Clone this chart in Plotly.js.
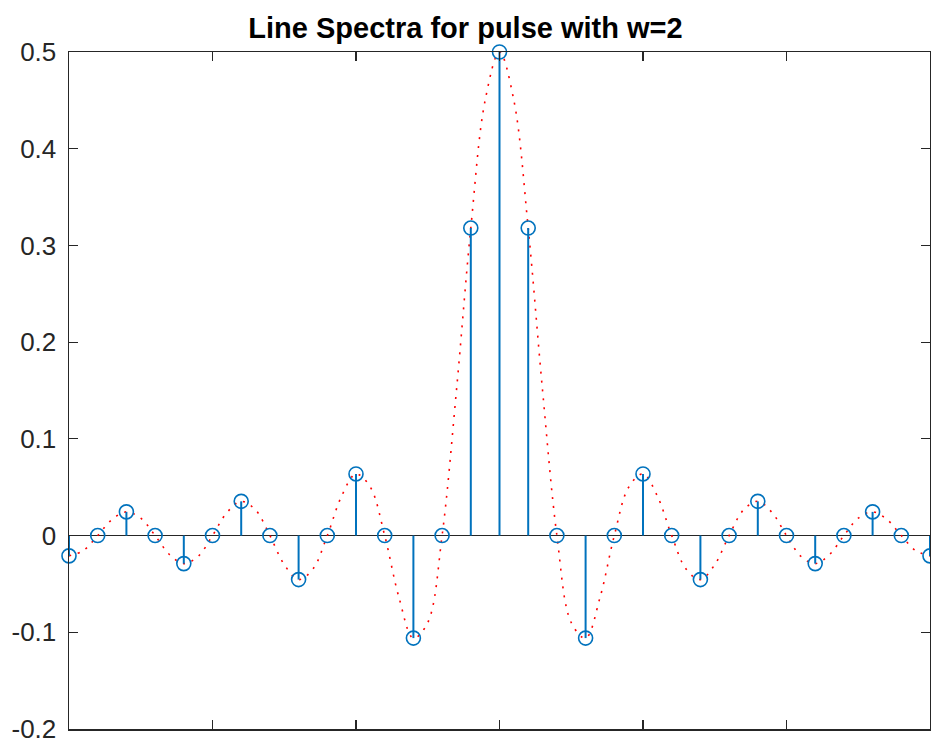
<!DOCTYPE html>
<html>
<head>
<meta charset="utf-8">
<script src="https://cdn.plot.ly/plotly-3.0.1.min.js"></script>
<style>html,body{margin:0;padding:0;background:#fff;}#chart{width:931px;height:740px;}</style>
</head>
<body>
<div id="chart"></div>
<script>
// Harmonic index k and line-spectrum coefficients (read from the stems)
const k = [-15,-14,-13,-12,-11,-10,-9,-8,-7,-6,-5,-4,-3,-2,-1,0,1,2,3,4,5,6,7,8,9,10,11,12,13,14,15];
const ck = [-0.021,0,0.0245,0,-0.029,0,0.0354,0,-0.0455,0,0.0637,0,-0.106,0,0.318,0.5,0.318,0,-0.106,0,0.0637,0,-0.0455,0,0.0354,0,-0.029,0,0.0245,0,-0.021];

const envX = [-15,-14.5,-14,-13.5,-13,-12.5,-12,-11.5,-11,-10.5,-10,-9.5,-9,-8.5,-8,-7.5,-7,-6.5,-6,-5.5,-5,-4.5,-4,-3.5,-3,-2.5,-2,-1.5,-1,-0.5,0,0.5,1,1.5,2,2.5,3,3.5,4,4.5,5,5.5,6,6.5,7,7.5,8,8.5,9,9.5,10,10.5,11,11.5,12,12.5,13,13.5,14,14.5,15];
const envY = [-0.021,-0.0155,0,0.0167,0.0245,0.018,0,-0.0196,-0.029,-0.0214,0,0.0237,0.0354,0.0265,0,-0.030,-0.0455,-0.0346,0,0.0409,0.0637,0.050,0,-0.0643,-0.106,-0.090,0,0.150,0.318,0.450,0.5,0.450,0.318,0.150,0,-0.090,-0.106,-0.0643,0,0.050,0.0637,0.0409,0,-0.0346,-0.0455,-0.030,0,0.0265,0.0354,0.0237,0,-0.0214,-0.029,-0.0196,0,0.018,0.0245,0.0167,0,-0.0155,-0.021];

const xTicks = [-10,-5,0,5,10];
const yTicks = [-0.2,-0.1,0,0.1,0.2,0.3,0.4,0.5];
const yTickText = ['-0.2','-0.1','0','0.1','0.2','0.3','0.4','0.5'];

const stemX = [], stemY = [];
k.forEach((kv,i)=>{ stemX.push(kv,kv,null); stemY.push(0,ck[i],null); });

const blue = '#0072BD';
const traces = [
  {x: envX, y: envY, type:'scatter', mode:'lines', line:{color:'#FF0000', width:1.6, dash:'2px,7px', shape:'spline', smoothing:1.0}, hoverinfo:'skip', cliponaxis:false},
  {x: stemX, y: stemY, type:'scatter', mode:'lines', line:{color:blue, width:2}, hoverinfo:'skip', connectgaps:false},
  {x: k, y: ck, type:'scatter', mode:'markers', marker:{symbol:'circle-open', size:14, color:blue, line:{width:1.6, color:blue}}, cliponaxis:false}
];

const axisCommon = {
  showgrid:false, showline:true, mirror:'ticks', linecolor:'#262626', linewidth:1.5,
  ticks:'inside', ticklen:9, tickwidth:1.2, tickcolor:'#262626'
};

const layout = {
  width:931, height:740,
  margin:{l:69, r:1, t:52, b:11},
  paper_bgcolor:'#fff', plot_bgcolor:'#fff',
  showlegend:false,
  title:{text:'<b>Line Spectra for pulse with w=2</b>', x:0.5, xanchor:'center', y:0.963, yanchor:'middle',
         font:{family:'Liberation Sans, Arial, sans-serif', size:29, color:'#000'}},
  xaxis:Object.assign({}, axisCommon, {range:[-15,15], tickvals:xTicks, showticklabels:false, zeroline:false}),
  yaxis:Object.assign({}, axisCommon, {range:[-0.2,0.5], tickvals:yTicks, ticktext:yTickText, ticklabelstandoff:6,
         ticklabeloverflow:'allow',
         tickfont:{family:'Liberation Sans, Arial, sans-serif', size:26, color:'#262626'},
         zeroline:true, zerolinecolor:'#262626', zerolinewidth:1.8}),
  font:{family:'Liberation Sans, Arial, sans-serif'}
};

Plotly.newPlot('chart', traces, layout, {displayModeBar:false, staticPlot:true});
</script>
</body>
</html>
